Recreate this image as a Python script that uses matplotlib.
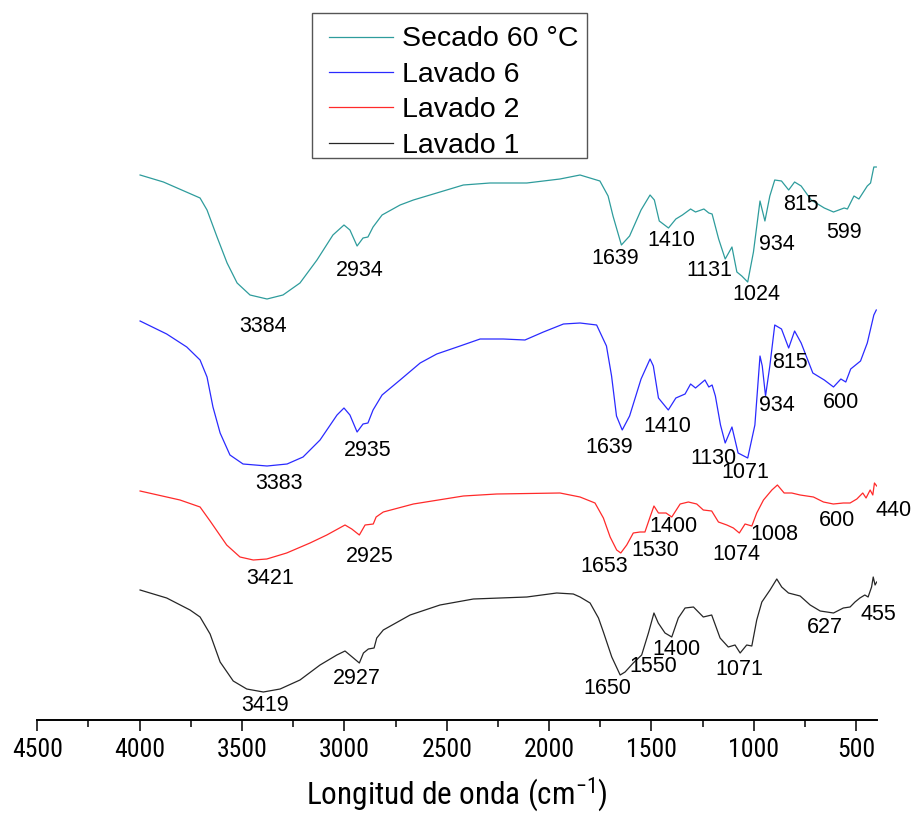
import matplotlib
matplotlib.use("Agg")
import matplotlib.pyplot as plt
from matplotlib.ticker import MultipleLocator
from matplotlib import font_manager
from matplotlib.patches import Rectangle

plt.rcParams['font.family'] = ['Liberation Sans', 'DejaVu Sans']

# ---- data (wavenumber cm-1, offset transmittance a.u.) ----
secado_wn = [3998, 3884, 3705, 3671, 3622, 3573, 3524, 3461, 3378, 3300, 3217, 3134, 3056, 3002,
             2973, 2938, 2909, 2885, 2860, 2816, 2728, 2663, 2419, 2289, 2109, 1947, 1849, 1752,
             1712, 1688, 1647, 1607, 1551, 1507, 1486, 1462, 1417, 1381, 1349, 1309, 1285, 1244,
             1220, 1204, 1172, 1140, 1107, 1083, 1059, 1030, 1002, 970, 946, 922, 898, 865, 830,
             801, 769, 720, 656, 611, 559, 543, 511, 487, 446, 430, 414, 402]
secado_t = [545, 538, 522, 510, 483, 457, 437, 425, 421, 425, 437, 460, 485, 495,
            490, 474, 482, 483, 493, 505, 515, 520, 535, 537, 537, 541, 545, 539,
            524, 504, 475, 484, 510, 525, 520, 499, 492, 501, 505, 511, 508, 511,
            507, 506, 481, 461, 473, 448, 444, 438, 468, 519, 499, 524, 540, 539, 530,
            538, 534, 520, 512, 508, 512, 511, 524, 521, 534, 537, 553, 553]

lav6_wn = [3998, 3868, 3770, 3705, 3671, 3642, 3607, 3559, 3495, 3378, 3280, 3202, 3119, 3036,
           3002, 2973, 2938, 2909, 2885, 2860, 2816, 2728, 2630, 2549, 2435, 2337, 2224, 2118,
           2028, 1930, 1849, 1768, 1720, 1695, 1671, 1643, 1607, 1551, 1507, 1491, 1466, 1418,
           1381, 1336, 1309, 1285, 1239, 1220, 1204, 1188, 1163, 1140, 1107, 1077, 1030, 995,
           970, 959, 943, 922, 898, 865, 830, 801, 769, 712, 656, 611, 575, 551, 527, 479, 446,
           414, 402]
lav6_t = [399, 386, 373, 360, 343, 313, 287, 265, 256, 254, 256, 263, 280, 305,
          312, 305, 288, 296, 297, 310, 325, 340, 357, 366, 374, 381, 381, 380,
          388, 396, 397, 395, 374, 344, 304, 290, 304, 341, 361, 354, 322, 310,
          322, 326, 336, 332, 340, 333, 335, 324, 295, 277, 293, 267, 262, 295,
          364, 354, 324, 354, 395, 391, 372, 389, 377, 347, 340, 333, 341, 338, 351, 359, 377,
          405, 410]

lav2_wn = [3998, 3803, 3705, 3656, 3575, 3510, 3445, 3379, 3282, 3168, 3086, 2997, 2964, 2927,
           2899, 2859, 2845, 2810, 2663, 2419, 2256, 1947, 1849, 1776, 1735, 1702, 1670, 1650,
           1621, 1589, 1556, 1532, 1507, 1488, 1466, 1429, 1401, 1360, 1320, 1279, 1247, 1206,
           1173, 1132, 1100, 1071, 1043, 1010, 986, 953, 912, 885, 852, 815, 774, 709, 660, 612,
           563, 530, 497, 468, 452, 432, 419, 411, 400]
lav2_t = [229, 220, 213, 199, 175, 163, 160, 161, 167, 177, 185, 195, 191, 185,
          195, 196, 203, 208, 216, 224, 226, 227, 223, 217, 202, 183, 170, 167,
          175, 187, 188, 188, 203, 214, 207, 207, 203, 216, 218, 216, 210, 209,
          198, 195, 192, 187, 196, 194, 207, 220, 230, 235, 227, 227, 225, 223, 218, 216,
          217, 217, 221, 227, 222, 230, 225, 237, 234]

lav1_wn = [3998, 3868, 3754, 3705, 3656, 3607, 3543, 3477, 3396, 3314, 3217, 3119, 3037, 2997,
           2956, 2927, 2907, 2883, 2855, 2842, 2810, 2679, 2533, 2370, 2240, 2109, 1963, 1882,
           1849, 1800, 1759, 1735, 1694, 1653, 1629, 1589, 1548, 1515, 1488, 1467, 1434, 1401,
           1369, 1336, 1295, 1247, 1206, 1165, 1125, 1092, 1067, 1035, 1010, 986, 961, 921, 888,
           864, 831, 774, 725, 676, 611, 563, 530, 506, 482, 458, 442, 425, 417, 408, 400]
lav1_t = [130, 122, 110, 103, 86, 58, 39, 31, 28, 31, 40, 55, 65, 69,
          62, 57, 67, 71, 72, 82, 90, 105, 115, 121, 122, 123, 127, 126,
          123, 117, 102, 88, 63, 45, 48, 57, 65, 87, 107, 97, 87, 83,
          102, 112, 113, 103, 105, 82, 73, 75, 67, 75, 74, 100, 118, 130, 141,
          133, 127, 124, 115, 109, 107, 112, 113, 118, 122, 125, 123, 133, 143, 135, 138]

series_names = ["Secado 60 °C", "Lavado 6", "Lavado 2", "Lavado 1"]
series_colors = ["#2e9c9c", "#2a2aff", "#ff2a2a", "#262626"]

# peak labels: (text, wavenumber position, y position)
secado_labels = [("3384", 3397, 393), ("2934", 2924, 450), ("1639", 1675, 462), ("1410", 1405, 479),
                 ("1131", 1220, 450), ("1024", 989, 425), ("934", 887, 476), ("815", 772, 515),
                 ("599", 559, 488)]
lav6_labels = [("3383", 3319, 237), ("2935", 2885, 270), ("1639", 1707, 273), ("1410", 1421, 294),
               ("1130", 1199, 262), ("1071", 1043, 248), ("934", 887, 315), ("815", 823, 358),
               ("600", 575, 318)]
lav2_labels = [("3421", 3363, 142), ("2925", 2875, 164), ("1653", 1732, 153), ("1530", 1483, 169),
               ("1400", 1393, 194), ("1074", 1087, 165), ("1008", 900, 185), ("600", 592, 200),
               ("440", 318, 209)]
lav1_labels = [("3419", 3388, 15), ("2927", 2937, 42), ("1650", 1716, 32), ("1550", 1491, 54),
               ("1400", 1380, 71), ("1071", 1071, 51), ("627", 652, 93), ("455", 392, 105)]

# choose a condensed family for axis texts if one is installed
names = {f.name for f in font_manager.fontManager.ttflist}
narrow = None
for cand in ['Liberation Sans Narrow', 'Roboto Condensed', 'DejaVu Sans Condensed', 'Open Sans Condensed']:
    if cand in names:
        narrow = cand
        break
axis_family = [narrow, 'Liberation Sans'] if narrow else ['Liberation Sans']

W, H = 912, 813
fig = plt.figure(figsize=(W / 100, H / 100), dpi=100)
ax = fig.add_axes([37.3 / W, 1 - 720 / H, (876.7 - 37.3) / W, 720 / H])

all_wn = [secado_wn, lav6_wn, lav2_wn, lav1_wn]
all_t = [secado_t, lav6_t, lav2_t, lav1_t]
for wn, t, name, col in zip(all_wn, all_t, series_names, series_colors):
    ax.plot(wn, t, color=col, lw=0.9, label=name)

for labels in [secado_labels, lav6_labels, lav2_labels, lav1_labels]:
    for txt, xw, yv in labels:
        ax.text(xw, yv, txt, ha='center', va='center', fontsize=15.5, color='black', clip_on=False)

ax.set_xlim(4500, 400)
ax.set_ylim(0, 720)
for s in ['top', 'left', 'right']:
    ax.spines[s].set_visible(False)
ax.spines['bottom'].set_linewidth(1.4)
ax.set_yticks([])
ax.xaxis.set_major_locator(MultipleLocator(500))
ax.xaxis.set_minor_locator(MultipleLocator(250))
ax.tick_params(axis='x', which='major', length=8, width=1.1, pad=5, labelsize=18.5)
ax.tick_params(axis='x', which='minor', length=5, width=1.1)
for lab in ax.get_xticklabels():
    lab.set_family(axis_family)
ax.set_xlabel('Longitud de onda (cm$^{\\mathregular{-1}}$)', fontsize=22.5,
              family=axis_family, labelpad=9)

# legend (entries without frame) + separate box
leg = ax.legend(loc='upper left', bbox_to_anchor=(329 / W, 1 - 26.5 / H),
                bbox_transform=fig.transFigure, fontsize=20.5, frameon=False,
                handlelength=2.25, handletextpad=0.3, labelspacing=0.33, borderpad=0,
                borderaxespad=0)
box = Rectangle((311.7 / W, 1 - 157.7 / H), (587 - 311.7) / W, (157.7 - 13.3) / H,
                transform=fig.transFigure, fill=False, edgecolor='#555555', linewidth=1.0)
fig.add_artist(box)

fig.savefig('out.png', dpi=100)
